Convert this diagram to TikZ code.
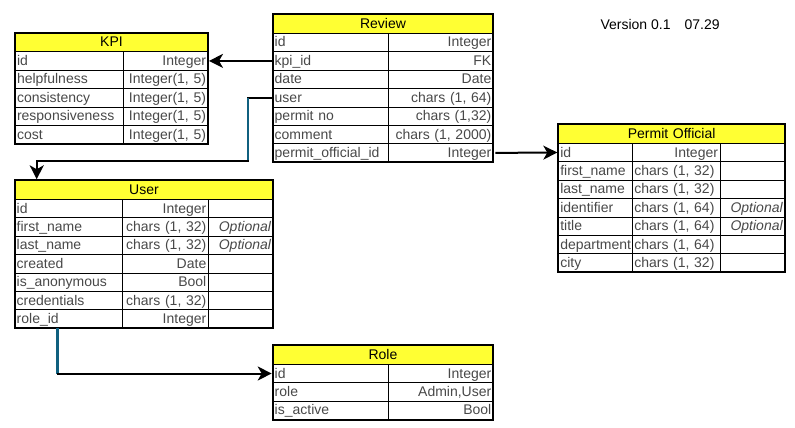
\documentclass[tikz,border=0pt]{standalone}
\usepackage{fontspec}
\setmainfont{Liberation Sans}
\usetikzlibrary{arrows.meta}
\definecolor{hdryellow}{RGB}{255,255,51}
\definecolor{txtgray}{RGB}{72,72,72}
\definecolor{wireteal}{RGB}{16,96,127}
\tikzset{
  cell/.style={draw, line width=0.8pt, anchor=north west, inner xsep=2pt, inner ysep=0pt,
    outer sep=0pt, minimum height=18.4pt, text height=11pt, text depth=2pt,
    text=txtgray, font=\fontsize{14}{16}\selectfont},
  colL/.style={cell, text width=#1, align=left},
  colR/.style={cell, text width=#1, align=right},
  hdr/.style={cell, minimum height=19pt, fill=hdryellow, text=black, text width=#1, align=center},
  outer/.style={line width=2pt},
  wire/.style={line width=2pt, line cap=rect},
  tealwire/.style={line width=2.4pt, draw=wireteal},
  link/.style={line width=2pt, -{Stealth[length=14pt,width=14pt,inset=4pt]}, shorten >=1pt},
}
\begin{document}
\begin{tikzpicture}[x=1pt,y=-1pt]
  \useasboundingbox (0,0) rectangle (795,428);
  %Version
  \node[anchor=west, font=\fontsize{14}{16}\selectfont] (ver) at (597,24) {Version 0.1\hspace{14pt}07.29};

  %KPI table
  \node[hdr=189pt] (kpi) at (15,32.7) {KPI};
  \node[colL=104pt] (kpi-id) at (kpi.south west) {id};
  \node[colR=81pt] (kpi-idT) at (kpi-id.north east) {Integer};
  \node[colL=104pt] (kpi-help) at (kpi-id.south west) {helpfulness};
  \node[colR=81pt] (kpi-helpT) at (kpi-help.north east) {Integer(1, 5)};
  \node[colL=104pt] (kpi-cons) at (kpi-help.south west) {consistency};
  \node[colR=81pt] (kpi-consT) at (kpi-cons.north east) {Integer(1, 5)};
  \node[colL=104pt] (kpi-resp) at (kpi-cons.south west) {responsiveness};
  \node[colR=81pt] (kpi-respT) at (kpi-resp.north east) {Integer(1, 5)};
  \node[colL=104pt] (kpi-cost) at (kpi-resp.south west) {cost};
  \node[colR=81pt] (kpi-costT) at (kpi-cost.north east) {Integer(1, 5)};
  \draw[outer] (kpi.north west) rectangle (kpi-costT.south east);

  %Review table
  \node[hdr=216.6pt] (rev) at (272.7,14.3) {Review};
  \node[colL=111.6pt] (rev-id) at (rev.south west) {id};
  \node[colR=101pt] (rev-idT) at (rev-id.north east) {Integer};
  \node[colL=111.6pt] (rev-kpi) at (rev-id.south west) {kpi\_id};
  \node[colR=101pt] (rev-kpiT) at (rev-kpi.north east) {FK};
  \node[colL=111.6pt] (rev-date) at (rev-kpi.south west) {date};
  \node[colR=101pt] (rev-dateT) at (rev-date.north east) {Date};
  \node[colL=111.6pt] (rev-user) at (rev-date.south west) {user};
  \node[colR=101pt] (rev-userT) at (rev-user.north east) {chars (1, 64)};
  \node[colL=111.6pt] (rev-pno) at (rev-user.south west) {permit no};
  \node[colR=101pt] (rev-pnoT) at (rev-pno.north east) {chars (1,32)};
  \node[colL=111.6pt] (rev-com) at (rev-pno.south west) {comment};
  \node[colR=101pt] (rev-comT) at (rev-com.north east) {chars (1, 2000)};
  \node[colL=111.6pt] (rev-po) at (rev-com.south west) {permit\_official\_id};
  \node[colR=101pt] (rev-poT) at (rev-po.north east) {Integer};
  \draw[outer] (rev.north west) rectangle (rev-poT.south east);

  %User table
  \node[hdr=254.6pt] (usr) at (14.7,180.3) {User};
  \node[colL=104pt] (usr-id) at (usr.south west) {id};
  \node[colR=81.6pt] (usr-idT) at (usr-id.north east) {Integer};
  \node[colR=61pt] (usr-idO) at (usr-idT.north east) {};
  \node[colL=104pt] (usr-first) at (usr-id.south west) {first\_name};
  \node[colR=81.6pt] (usr-firstT) at (usr-first.north east) {chars (1, 32)};
  \node[colR=61pt] (usr-firstO) at (usr-firstT.north east) {\textit{Optional}};
  \node[colL=104pt] (usr-last) at (usr-first.south west) {last\_name};
  \node[colR=81.6pt] (usr-lastT) at (usr-last.north east) {chars (1, 32)};
  \node[colR=61pt] (usr-lastO) at (usr-lastT.north east) {\textit{Optional}};
  \node[colL=104pt] (usr-cre) at (usr-last.south west) {created};
  \node[colR=81.6pt] (usr-creT) at (usr-cre.north east) {Date};
  \node[colR=61pt] (usr-creO) at (usr-creT.north east) {};
  \node[colL=104pt] (usr-anon) at (usr-cre.south west) {is\_anonymous};
  \node[colR=81.6pt] (usr-anonT) at (usr-anon.north east) {Bool};
  \node[colR=61pt] (usr-anonO) at (usr-anonT.north east) {};
  \node[colL=104pt] (usr-cred) at (usr-anon.south west) {credentials};
  \node[colR=81.6pt] (usr-credT) at (usr-cred.north east) {chars (1, 32)};
  \node[colR=61pt] (usr-credO) at (usr-credT.north east) {};
  \node[colL=104pt] (usr-role) at (usr-cred.south west) {role\_id};
  \node[colR=81.6pt] (usr-roleT) at (usr-role.north east) {Integer};
  \node[colR=61pt] (usr-roleO) at (usr-roleT.north east) {};
  \draw[outer] (usr.north west) rectangle (usr-roleO.south east);

  %Permit Official table
  \node[hdr=222.7pt] (po) at (558.3,124.3) {Permit Official};
  \node[colL=70pt] (po-id) at (po.south west) {id};
  \node[colR=83.7pt] (po-idT) at (po-id.north east) {Integer};
  \node[colR=61pt] (po-idO) at (po-idT.north east) {};
  \node[colL=70pt] (po-first) at (po-id.south west) {first\_name};
  \node[colL=83.7pt] (po-firstT) at (po-first.north east) {chars (1, 32)};
  \node[colR=61pt] (po-firstO) at (po-firstT.north east) {};
  \node[colL=70pt] (po-last) at (po-first.south west) {last\_name};
  \node[colL=83.7pt] (po-lastT) at (po-last.north east) {chars (1, 32)};
  \node[colR=61pt] (po-lastO) at (po-lastT.north east) {};
  \node[colL=70pt] (po-ident) at (po-last.south west) {identifier};
  \node[colL=83.7pt] (po-identT) at (po-ident.north east) {chars (1, 64)};
  \node[colR=61pt] (po-identO) at (po-identT.north east) {\textit{Optional}};
  \node[colL=70pt] (po-title) at (po-ident.south west) {title};
  \node[colL=83.7pt] (po-titleT) at (po-title.north east) {chars (1, 64)};
  \node[colR=61pt] (po-titleO) at (po-titleT.north east) {\textit{Optional}};
  \node[colL=70pt] (po-dep) at (po-title.south west) {department};
  \node[colL=83.7pt] (po-depT) at (po-dep.north east) {chars (1, 64)};
  \node[colR=61pt] (po-depO) at (po-depT.north east) {};
  \node[colL=70pt] (po-city) at (po-dep.south west) {city};
  \node[colL=83.7pt] (po-cityT) at (po-city.north east) {chars (1, 32)};
  \node[colR=61pt] (po-cityO) at (po-cityT.north east) {};
  \draw[outer] (po.north west) rectangle (po-cityO.south east);

  %Role table
  \node[hdr=216.6pt] (role) at (272.7,345.3) {Role};
  \node[colL=111.6pt] (role-id) at (role.south west) {id};
  \node[colR=101pt] (role-idT) at (role-id.north east) {Integer};
  \node[colL=111.6pt] (role-role) at (role-id.south west) {role};
  \node[colR=101pt] (role-roleT) at (role-role.north east) {Admin,User};
  \node[colL=111.6pt] (role-act) at (role-role.south west) {is\_active};
  \node[colR=101pt] (role-actT) at (role-act.north east) {Bool};
  \draw[outer] (role.north west) rectangle (role-actT.south east);

  %Links
  \draw[link] (rev-kpi.west) -- (kpi-idT.east);
  \coordinate (bendA) at (248,160.7);
  \coordinate (bendB) at (36.7,160.7);
  \draw[wire] (rev-user.west) -- (rev-user.west -| bendA);
  \draw[tealwire] (rev-user.west -| bendA) -- (bendA);
  \draw[wire] (bendA) -- (bendB);
  \draw[link] (bendB) -- (bendB |- usr.north);
  \draw[link, shorten <=2pt] (rev-poT.east) -- (po-id.west);
  \coordinate (bendC) at (57.3,373.5);
  \draw[tealwire] (usr-role.south -| bendC) -- (bendC);
  \draw[link] (bendC) -- (bendC -| role-id.west);
\end{tikzpicture}
\end{document}
